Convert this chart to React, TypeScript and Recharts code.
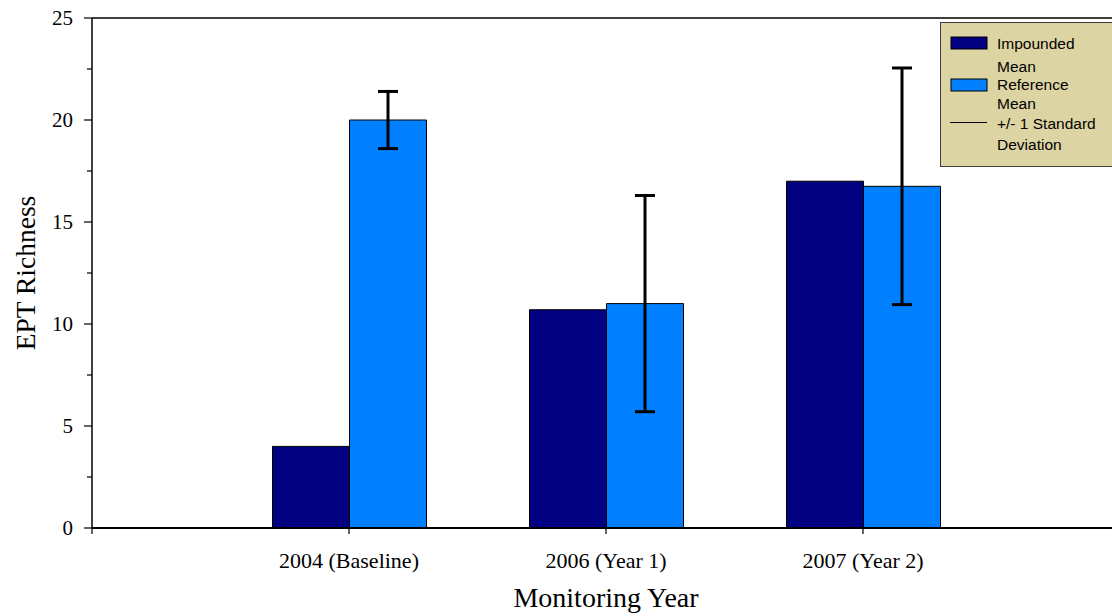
import React from 'react';
import { BarChart, Bar, XAxis, YAxis, ErrorBar, ReferenceLine, Legend, Label } from 'recharts';

const categories = ['2004 (Baseline)', '2006 (Year 1)', '2007 (Year 2)'];
const categoryPositions = [1, 2, 3];
const impoundedMean = [4, 10.7, 17];
const referenceMean = [20, 11, 16.75];
const referenceSD = [1.4, 5.3, 5.8];
const yTicks = [0, 2.5, 5, 7.5, 10, 12.5, 15, 17.5, 20, 22.5, 25];
const xTicks = [0, 1, 2, 3, 4];

const data = categories.map((c, i) => ({
  name: c,
  pos: categoryPositions[i],
  impounded: impoundedMean[i],
  reference: referenceMean[i],
  sd: referenceSD[i],
}));

const serif = '"Liberation Serif", "Times New Roman", serif';
const sans = '"Liberation Sans", Arial, sans-serif';

const renderLegend = () => (
  <svg width={180} height={146} style={{ display: 'block' }}>
    <rect x={0.5} y={0.5} width={190} height={144} fill="#DDD4A3" stroke="#404040" strokeWidth={1} />
    <rect x={11} y={15} width={36} height={12} fill="#000080" stroke="#000" strokeWidth={1} />
    <rect x={11} y={57} width={36} height={12} fill="#0080FF" stroke="#000" strokeWidth={1} />
    <line x1={10} y1={100.5} x2={47} y2={100.5} stroke="#000" strokeWidth={1} />
    <g fontFamily={sans} fontSize={15.5} fill="#000">
      <text x={57} y={27}>Impounded</text>
      <text x={57} y={50}>Mean</text>
      <text x={57} y={68}>Reference</text>
      <text x={57} y={87}>Mean</text>
      <text x={57} y={106.5}>+/- 1 Standard</text>
      <text x={57} y={128}>Deviation</text>
    </g>
  </svg>
);

const YTick = (props: any) => {
  const { x, y, payload } = props;
  const v = payload.value as number;
  const major = v % 5 === 0;
  const axisX = x + 19;
  return (
    <g>
      <line x1={axisX - (major ? 8 : 5)} y1={y} x2={axisX} y2={y} stroke="#000" strokeWidth={1.2} />
      {major && (
        <text x={x} y={y} dy="0.355em" textAnchor="end" fill="#000" fontFamily={serif} fontSize={21}>
          {v}
        </text>
      )}
    </g>
  );
};

export default function App() {
  return (
    <div style={{ position: 'absolute', left: 0, top: 0, width: 1112, height: 616, overflow: 'hidden', background: '#fff' }}>
      <BarChart
        width={1130}
        height={616}
        data={data}
        margin={{ top: 18, right: 10, bottom: 0, left: 0 }}
        barGap={0}
        barSize={77}
      >
        <YAxis
          yAxisId="main"
          width={92}
          type="number"
          domain={[0, 25]}
          ticks={yTicks}
          interval={0}
          tickSize={8}
          tickMargin={11}
          tickLine={false}
          axisLine={{ stroke: '#000', strokeWidth: 1.5 }}
          tick={<YTick />}
        >
          <Label
            value="EPT Richness"
            angle={-90}
            position="center"
            dx={-21}
            style={{ fill: '#000', fontFamily: serif, fontSize: 27.5, textAnchor: 'middle' }}
          />
        </YAxis>
        <XAxis
          dataKey="pos"
          type="number"
          domain={[0, 4]}
          ticks={xTicks}
          interval={0}
          height={88}
          tickSize={6}
          tickMargin={18}
          tickFormatter={(v: number) => categories[v - 1] ?? ''}
          axisLine={{ stroke: '#000', strokeWidth: 2 }}
          tickLine={{ stroke: '#000', strokeWidth: 1.2 }}
          tick={{ fill: '#000', fontFamily: serif, fontSize: 22 }}
        >
          <Label
            value="Monitoring Year"
            position="insideBottom"
            offset={9}
            style={{ fill: '#000', fontFamily: serif, fontSize: 28, textAnchor: 'middle' }}
          />
        </XAxis>
        <ReferenceLine yAxisId="main" y={25} stroke="#000" strokeWidth={1.5} />
        <Legend
          layout="vertical"
          align="center"
          verticalAlign="middle"
          content={renderLegend}
          wrapperStyle={{ position: 'absolute', left: 940, top: 22, width: 180, height: 146, margin: 0, padding: 0 }}
        />
        <Bar yAxisId="main" dataKey="impounded" name="Impounded Mean" fill="#000080" stroke="#000" strokeWidth={1} isAnimationActive={false} />
        <Bar yAxisId="main" dataKey="reference" name="Reference Mean" fill="#0080FF" stroke="#000" strokeWidth={1} isAnimationActive={false}>
          <ErrorBar dataKey="sd" direction="y" width={10} stroke="#000" strokeWidth={3} isAnimationActive={false} />
        </Bar>
      </BarChart>
    </div>
  );
}
